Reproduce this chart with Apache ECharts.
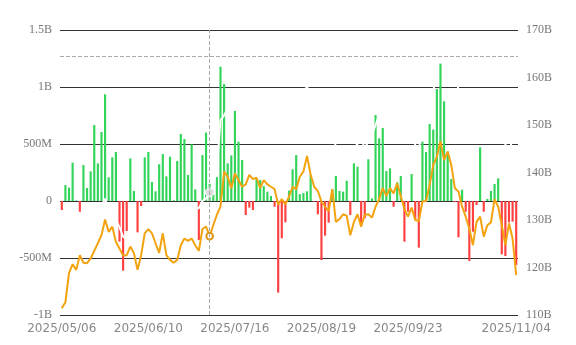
<!DOCTYPE html>
<html>
<head>
<meta charset="utf-8">
<script src="https://cdn.jsdelivr.net/npm/echarts@6/dist/echarts.min.js"></script>
<style>html,body{margin:0;padding:0;background:#fff;}#c{width:576px;height:345px;}</style>
</head>
<body>
<div id="c"></div>
<script>
const dates = [
'2025/05/06','2025/05/07','2025/05/08','2025/05/09','2025/05/12','2025/05/13','2025/05/14','2025/05/15','2025/05/16',
'2025/05/19','2025/05/20','2025/05/21','2025/05/22','2025/05/23','2025/05/27','2025/05/28','2025/05/29','2025/05/30',
'2025/06/02','2025/06/03','2025/06/04','2025/06/05','2025/06/06','2025/06/09','2025/06/10','2025/06/11','2025/06/12','2025/06/13',
'2025/06/16','2025/06/17','2025/06/18','2025/06/20','2025/06/23','2025/06/24','2025/06/25','2025/06/26','2025/06/27','2025/06/30',
'2025/07/01','2025/07/02','2025/07/03','2025/07/07','2025/07/08','2025/07/09','2025/07/10','2025/07/11','2025/07/14','2025/07/15','2025/07/16',
'2025/07/17','2025/07/18','2025/07/21','2025/07/22','2025/07/23','2025/07/24','2025/07/25','2025/07/28','2025/07/29','2025/07/30','2025/07/31',
'2025/08/01','2025/08/04','2025/08/05','2025/08/06','2025/08/07','2025/08/08','2025/08/11','2025/08/12','2025/08/13','2025/08/14','2025/08/15',
'2025/08/18','2025/08/19','2025/08/20','2025/08/21','2025/08/22','2025/08/25','2025/08/26','2025/08/27','2025/08/28','2025/08/29',
'2025/09/02','2025/09/03','2025/09/04','2025/09/05','2025/09/08','2025/09/09','2025/09/10','2025/09/11','2025/09/12',
'2025/09/15','2025/09/16','2025/09/17','2025/09/18','2025/09/19','2025/09/22','2025/09/23','2025/09/24','2025/09/25','2025/09/26',
'2025/09/29','2025/09/30','2025/10/01','2025/10/02','2025/10/03','2025/10/06','2025/10/07','2025/10/08','2025/10/09','2025/10/10',
'2025/10/13','2025/10/14','2025/10/15','2025/10/16','2025/10/17','2025/10/20','2025/10/21','2025/10/22','2025/10/23','2025/10/24',
'2025/10/27','2025/10/28','2025/10/29','2025/10/30','2025/10/31','2025/11/03','2025/11/04'
];

// net flow, millions (left axis)
const netFlow = [
-79,140,117,336,5,-94,316,114,260,667,
330,605,936,208,383,430,-357,-611,-263,374,
88,-275,-44,383,430,167,85,322,412,216,
389,7,351,588,544,228,497,102,-342,403,
600,150,60,210,1178,1026,330,400,790,520,
360,-123,-58,-79,199,184,132,82,44,-50,
-804,-327,-187,91,278,403,60,70,85,228,
-5,-117,-518,-304,-190,105,219,88,82,178,
-123,330,301,-210,-152,366,23,754,550,640,
263,287,-50,164,219,-357,-94,237,-167,-409,
520,430,675,626,982,1205,874,433,193,-10,
-319,99,-94,-526,-269,-35,471,-94,18,88,
149,199,-468,-482,-187,-181,-561
];

// orange line, billions (right axis)
const orangeLine = [
111.4,112.7,118.8,120.7,119.5,122.6,121.0,120.9,121.9,123.5,
125.1,126.8,130.1,127.5,128.6,125.4,124.0,122.5,122.6,124.4,
123.0,119.5,122.6,127.2,128.1,127.2,125.1,123.1,127.2,122.6,
121.6,121.0,121.6,124.7,126.1,125.6,126.1,124.7,123.5,128.1,
128.6,126.6,128.9,131.1,132.8,140.2,139.1,136.7,139.8,138.4,
137.0,137.5,139.5,138.6,138.9,136.7,138.4,137.5,137.0,136.5,
133.2,134.4,133.3,134.9,137.0,136.5,139.1,140.2,143.5,139.5,
137.0,136.1,133.9,132.8,131.8,136.5,129.6,130.2,131.2,130.9,
126.8,129.6,131.2,128.6,131.1,131.2,130.5,132.8,134.4,136.7,
135.1,136.7,135.6,137.7,135.0,132.3,130.7,132.6,130.0,129.8,
133.9,134.0,137.4,141.6,143.3,146.6,142.6,144.4,141.6,136.7,
136.0,132.8,130.7,128.2,124.7,129.6,130.7,126.5,128.9,129.5,
134.4,132.8,128.9,124.7,129.3,126.1,118.4
];

// faint white line, billions (right axis)
const whiteLine = [
124,125,127,128,127,129,130,129,130,131,
132,133,134.5,132,131,130,128.5,126.5,126,128,
127,125,127,131,132.8,132,130,128,130,128,
126.8,127.5,129,130.5,131.8,131,132,132.5,132.5,134,
134.5,135.8,137.5,140.9,151.0,152,153.5,153,154.2,153.8,
154.6,154,153.5,153,152.5,152.8,151.5,150.7,149.5,148,
147.2,148,148.2,149.5,150.7,152,154.2,156,158.4,154.2,
152.5,150.7,149,147.9,149,150,145.1,145,144.4,143,
144,145.1,146,147.2,145.1,146.5,147.9,150,152.1,153,
154.2,153.5,154,154.9,152,150,147.9,149.3,145.8,144.4,
150.7,152.1,154.5,157,161.9,168.9,168,167.5,166,164,
157,154,151.4,149,146.5,147.9,150.7,151,151.4,152,
152.8,155.6,152.1,145.8,147.9,144.4,136
];

const leftTicks = {min: -1000, max: 1500, step: 500};
const rightTicks = {min: 110, max: 170, step: 10};

const chart = echarts.init(document.getElementById('c'), null, {renderer: 'canvas'});
const serif = '"Liberation Serif", "DejaVu Serif", serif';
chart.setOption({
  animation: false,
  backgroundColor: '#fff',
  grid: {left: 60, right: 58, top: 30, bottom: 30},
  tooltip: {
    trigger: 'axis',
    showContent: false,
    axisPointer: {
      type: 'cross',
      animation: false,
      label: {show: false},
      lineStyle: {color: '#aaa', type: 'dashed', width: 1},
      crossStyle: {color: '#aaa', type: 'dashed', width: 1}
    }
  },
  xAxis: {
    type: 'category',
    data: dates,
    boundaryGap: true,
    axisLine: {show: false},
    axisTick: {show: false},
    axisLabel: {
      color: '#888',
      fontSize: 12,
      margin: 8,
      fontFamily: '"DejaVu Sans", sans-serif',
      interval: function (i) { return (i % 24 === 0 && i !== 120) || i === dates.length - 1; }
    },
    splitLine: {show: false}
  },
  yAxis: [
    {
      type: 'value', min: leftTicks.min, max: leftTicks.max, interval: leftTicks.step,
      axisLine: {show: false}, axisTick: {show: false},
      splitLine: {show: true, lineStyle: {color: '#333', width: 1}},
      axisLabel: {
        color: '#777', fontSize: 12, fontFamily: serif, margin: 8,
        formatter: function (v) {
          if (v === 0) return '0';
          if (Math.abs(v) >= 1000) return (v / 1000) + 'B';
          return v + 'M';
        }
      }
    },
    {
      type: 'value', min: rightTicks.min, max: rightTicks.max, interval: rightTicks.step,
      position: 'right',
      axisLine: {show: false}, axisTick: {show: false},
      splitLine: {show: false},
      axisLabel: {color: '#777', fontSize: 12, fontFamily: serif, margin: 8, formatter: '{value}B'}
    }
  ],
  series: [
    {
      name: 'flow', type: 'bar', yAxisIndex: 0, barWidth: '60%',
      data: netFlow.map(v => ({value: v, itemStyle: {color: v >= 0 ? '#33d45a' : '#ff4040'}})),
      emphasis: {disabled: true}
    },
    {
      name: 'white', type: 'line', yAxisIndex: 1, data: whiteLine,
      showSymbol: false, symbol: 'circle', symbolSize: 8,
      lineStyle: {color: '#f3f3f3', width: 2},
      itemStyle: {color: '#ddd', borderColor: '#fff', borderWidth: 1},
      z: 3
    },
    {
      name: 'orange', type: 'line', yAxisIndex: 1, data: orangeLine,
      showSymbol: false, symbol: 'emptyCircle', symbolSize: 6,
      lineStyle: {color: '#dc950e', width: 2},
      itemStyle: {color: '#dc950e'},
      z: 4
    }
  ]
});
chart.dispatchAction({type: 'showTip', x: 209, y: 56});
</script>
</body>
</html>
